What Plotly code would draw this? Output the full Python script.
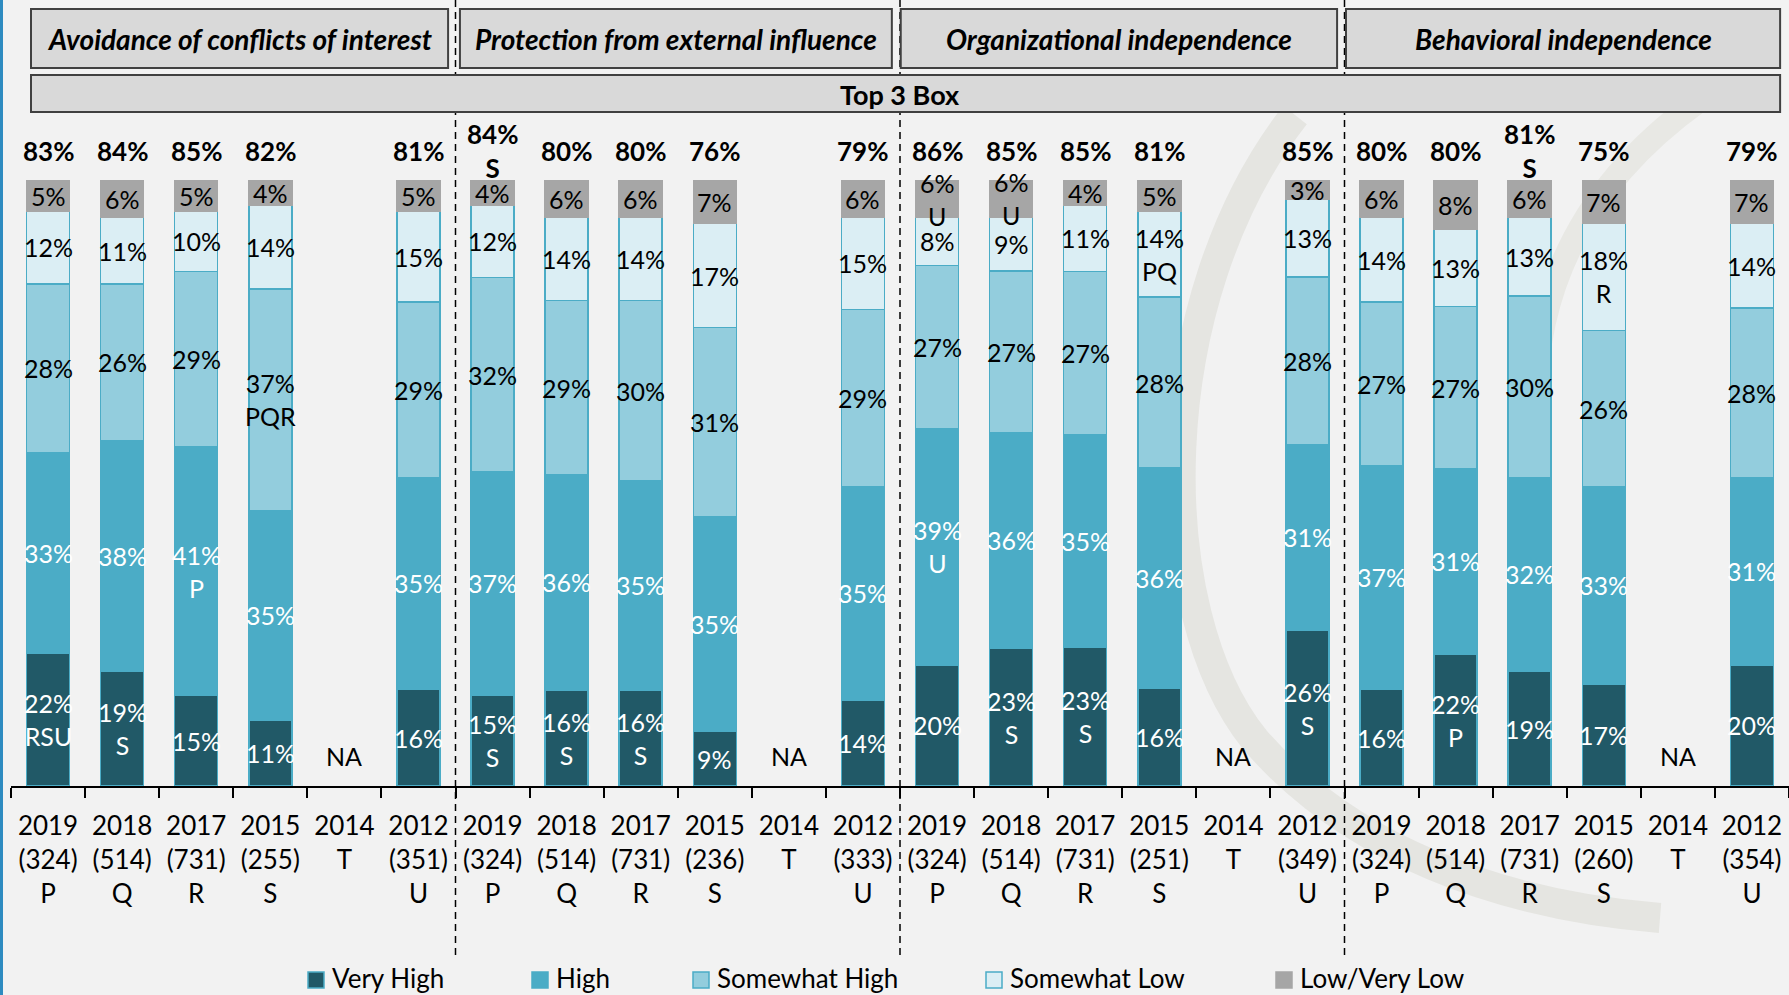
import plotly.graph_objects as go

# ---------------- data ----------------
groups = ["Avoidance of conflicts of interest", "Protection from external influence",
          "Organizational independence", "Behavioral independence"]
years = ["2019", "2018", "2017", "2015", "2014", "2012"]
letters = ["P", "Q", "R", "S", "", "U"]
sample_sizes = [
    ["(324)", "(514)", "(731)", "(255)", "T", "(351)"],
    ["(324)", "(514)", "(731)", "(236)", "T", "(333)"],
    ["(324)", "(514)", "(731)", "(251)", "T", "(349)"],
    ["(324)", "(514)", "(731)", "(260)", "T", "(354)"],
]

very_high = [22, 19, 15, 11, None, 16, 15, 16, 16, 9, None, 14,
             20, 23, 23, 16, None, 26, 16, 22, 19, 17, None, 20]
high = [33, 38, 41, 35, None, 35, 37, 36, 35, 35, None, 35,
        39, 36, 35, 36, None, 31, 37, 31, 32, 33, None, 31]
somewhat_high = [28, 26, 29, 37, None, 29, 32, 29, 30, 31, None, 29,
                 27, 27, 27, 28, None, 28, 27, 27, 30, 26, None, 28]
somewhat_low = [12, 11, 10, 14, None, 15, 12, 14, 14, 17, None, 15,
                8, 9, 11, 14, None, 13, 14, 13, 13, 18, None, 14]
low_very_low = [5, 6, 5, 4, None, 5, 4, 6, 6, 7, None, 6,
                6, 6, 4, 5, None, 3, 6, 8, 6, 7, None, 7]

very_high_sig = ["RSU", "S", "", "", "", "", "S", "S", "S", "", "", "",
                 "", "S", "S", "", "", "S", "", "P", "", "", "", ""]
high_sig = ["", "", "P", "", "", "", "", "", "", "", "", "",
            "U", "", "", "", "", "", "", "", "", "", "", ""]
somewhat_high_sig = ["", "", "", "PQR", "", "", "", "", "", "", "", "",
                     "", "", "", "", "", "", "", "", "", "", "", ""]
somewhat_low_sig = ["", "", "", "", "", "", "", "", "", "", "", "",
                    "", "", "", "PQ", "", "", "", "", "", "R", "", ""]
low_very_low_sig = ["", "", "", "", "", "", "", "", "", "", "", "",
                    "U", "U", "", "", "", "", "", "", "", "", "", ""]

top3 = [83, 84, 85, 82, None, 81, 84, 80, 80, 76, None, 79,
        86, 85, 85, 81, None, 85, 80, 80, 81, 75, None, 79]
top3_sig = ["", "", "", "", "", "", "S", "", "", "", "", "",
            "", "", "", "", "", "", "", "", "S", "", "", ""]

series_names = ["Very High", "High", "Somewhat High", "Somewhat Low", "Low/Very Low"]
series_values = [very_high, high, somewhat_high, somewhat_low, low_very_low]
series_sigs = [very_high_sig, high_sig, somewhat_high_sig, somewhat_low_sig, low_very_low_sig]

# ---------------- styles ----------------
FONT = "Lato, 'Open Sans', sans-serif"
BG = "#F2F2F2"
colors = ["#215967", "#4BACC6", "#93CDDD", "#DBEEF4", "#A6A6A6"]
label_colors = ["white", "white", "black", "black", "black"]
border_colors = ["#4BACC6", "#4BACC6", "#4BACC6", "#4BACC6", "#A6A6A6"]

W, H = 1789, 995
ML, MR, MT, MB = 11, 0, 0, 209
PH = H - MT - MB
PW = W - ML - MR
Y_MAX = 129.9


def py2paper(py):
    return (H - MB - py) / PH


def px2paper(px):
    return (px - ML) / PW


cats = [f"{g}|{y}" for g in range(len(groups)) for y in years]
ticktext = []
for g in range(len(groups)):
    for i, y in enumerate(years):
        lines = [y, sample_sizes[g][i]]
        if letters[i]:
            lines.append(letters[i])
        ticktext.append("<br>".join(lines))

fig = go.Figure()
for name, vals, col, bcol in zip(series_names, series_values, colors, border_colors):
    fig.add_trace(go.Bar(
        x=cats, y=vals, name=name,
        marker=dict(color=col, line=dict(color=bcol, width=1.5)),
        showlegend=False, hoverinfo="skip",
    ))

# bar totals (bars are shown normalised to 100%)
totals = []
for i in range(len(cats)):
    vs = [s[i] for s in series_values if s[i] is not None]
    totals.append(sum(vs) if vs else None)

annotations = []
# segment labels
cum = [0.0] * len(cats)
for vals, sigs, lc in zip(series_values, series_sigs, label_colors):
    for i, v in enumerate(vals):
        if v is None:
            continue
        txt = f"{v}%" + (f"<br>{sigs[i]}" if sigs[i] else "")
        ymid = (cum[i] + v / 2) / totals[i] * 100
        annotations.append(dict(x=cats[i], y=ymid, text=txt, showarrow=False,
                                xref="x", yref="y", yanchor="middle",
                                font=dict(family=FONT, size=25, color=lc)))
        cum[i] += v

# top 3 box labels + NA
for i, t in enumerate(top3):
    if t is None:
        annotations.append(dict(x=cats[i], y=5, text="NA", showarrow=False,
                                xref="x", yref="y", yanchor="middle",
                                font=dict(family=FONT, size=25, color="black")))
        continue
    txt = f"<b>{t}%</b>" + (f"<br><b>{top3_sig[i]}</b>" if top3_sig[i] else "")
    annotations.append(dict(x=cats[i], y=105, text=txt, showarrow=False,
                            xref="x", yref="y", yanchor="middle",
                            font=dict(family=FONT, size=26, color="black")))

shapes = []


def pt(px, py):
    return f"{px2paper(px):.5f},{py2paper(py):.5f}"


# faint background watermark swirl
shapes.append(dict(type="path", xref="paper", yref="paper", layer="below",
                   path=(f"M {pt(1295, 115)} C {pt(1150, 300)} {pt(1150, 610)} {pt(1255, 740)} "
                         f"C {pt(1350, 850)} {pt(1500, 905)} {pt(1660, 918)}"),
                   line=dict(color="#E5E5E1", width=30)))
shapes.append(dict(type="path", xref="paper", yref="paper", layer="below",
                   path=(f"M {pt(1700, 100)} C {pt(1560, 200)} {pt(1520, 330)} {pt(1540, 470)}"),
                   line=dict(color="#E8E8E4", width=24)))

# dashed separators
for b in [5.5, 11.5, 17.5]:
    shapes.append(dict(type="line", xref="x", yref="paper", x0=b, x1=b,
                       y0=py2paper(955), y1=1.0,
                       line=dict(color="black", width=1.5, dash="7px,5px")))

# header boxes
header_x = [(-0.23, 5.4), (5.56, 11.39), (11.51, 17.4), (17.52, 23.38)]
for (x0, x1), gname in zip(header_x, groups):
    shapes.append(dict(type="rect", xref="x", yref="paper", x0=x0, x1=x1,
                       y0=py2paper(68), y1=py2paper(9), fillcolor="#D9D9D9",
                       line=dict(color="#404040", width=2)))
    annotations.append(dict(x=(x0 + x1) / 2, y=py2paper(39), xref="x", yref="paper",
                            xanchor="center", yanchor="middle",
                            text=f"<b><i>{gname}</i></b>", showarrow=False,
                            font=dict(family=FONT, size=28, color="black")))
shapes.append(dict(type="rect", xref="x", yref="paper", x0=-0.23, x1=23.38,
                   y0=py2paper(112), y1=py2paper(75), fillcolor="#D9D9D9",
                   line=dict(color="#404040", width=2)))
annotations.append(dict(x=11.5, y=py2paper(94), xref="x", yref="paper",
                        xanchor="center", yanchor="middle",
                        text="<b>Top 3 Box</b>", showarrow=False,
                        font=dict(family=FONT, size=27, color="black")))

# left blue border
shapes.append(dict(type="line", xref="paper", yref="paper", x0=px2paper(1.5), x1=px2paper(1.5),
                   y0=py2paper(H), y1=1.0, line=dict(color="#2E8BC0", width=3)))

# manual legend
legend_marker_x = [308, 532, 693, 986, 1276]
legend_y = 978
for name, col, mx in zip(series_names, colors, legend_marker_x):
    edge = "#4BACC6" if name != "Low/Very Low" else "#A6A6A6"
    shapes.append(dict(type="rect", xref="paper", yref="paper",
                       x0=px2paper(mx), x1=px2paper(mx + 16),
                       y0=py2paper(legend_y + 10), y1=py2paper(legend_y - 6),
                       fillcolor=col, line=dict(color=edge, width=1.5)))
    annotations.append(dict(x=px2paper(mx + 22), y=py2paper(legend_y), xref="paper", yref="paper",
                            xanchor="left", yanchor="middle", text=name, showarrow=False,
                            font=dict(family=FONT, size=26, color="black")))

fig.update_layout(
    width=W, height=H,
    margin=dict(l=ML, r=MR, t=MT, b=MB, pad=0),
    paper_bgcolor=BG, plot_bgcolor="rgba(0,0,0,0)",
    barmode="stack", barnorm="percent", bargap=0.42,
    font=dict(family=FONT, size=26, color="black"),
    annotations=annotations, shapes=shapes,
    xaxis=dict(type="category", categoryorder="array", categoryarray=cats,
               range=[-0.5, 23.5], tickmode="array", tickvals=cats, ticktext=ticktext,
               tickson="boundaries", ticks="outside", ticklen=10, tickwidth=1.5,
               tickcolor="black", showline=True, linecolor="black", linewidth=2,
               showgrid=False, zeroline=False, ticklabelstandoff=16,
               tickfont=dict(family=FONT, size=26, color="black")),
    yaxis=dict(range=[0, Y_MAX], visible=False, showgrid=False, zeroline=False),
)

fig.write_html("out.html", config={"displayModeBar": False},
               post_script="document.body.style.margin='0';document.body.style.overflow='hidden';")
